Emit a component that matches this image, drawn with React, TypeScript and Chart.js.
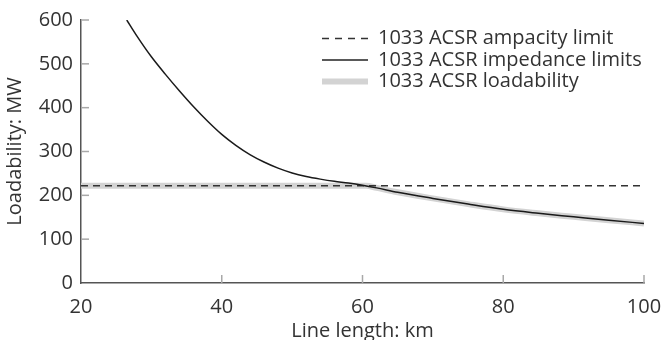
import React, { useEffect, useRef } from "react";
import { Chart, registerables } from "chart.js";

Chart.register(...registerables);

const FONT = "'Open Sans', 'Noto Sans', sans-serif";
const TEXT = "#333333";
const FS = 20;

// Data
const impedanceKm = [26.5, 28, 30, 32, 34, 36, 38, 40, 42, 44, 46, 48, 50, 52, 54, 56, 58, 60, 62, 65, 70, 75, 80, 85, 90, 95, 100];
const impedanceMW = [600, 562, 516, 476, 438, 402, 369, 339, 314, 293, 276, 262, 251, 243, 237, 232, 228, 223, 217, 207, 193, 180, 168, 159, 151, 143, 136];
const ampacityKm = [20, 100];
const ampacityMW = [222, 222];
const loadabilityKm = [20, 60.5, 62, 65, 70, 75, 80, 85, 90, 95, 100];
const loadabilityMW = [222, 222, 217, 207, 193, 180, 168, 159, 151, 143, 136];
const xTicks = [20, 40, 60, 80, 100];
const yTicks = [0, 100, 200, 300, 400, 500, 600];
const legendLabels = [
  "1033 ACSR ampacity limit",
  "1033 ACSR impedance limits",
  "1033 ACSR loadability",
];
const xTitle = "Line length: km";
const yTitle = "Loadability: MW";

const toPoints = (xs: number[], ys: number[]) => xs.map((x, i) => ({ x, y: ys[i] }));

const insideTicks = {
  id: "insideTicks",
  afterDatasetsDraw(chart: any) {
    const { ctx, chartArea, scales } = chart;
    ctx.save();
    ctx.strokeStyle = "#a8a8a8";
    ctx.lineWidth = 1.5;
    yTicks.forEach((v) => {
      if (v === 0) return;
      const y = scales.y.getPixelForValue(v);
      ctx.beginPath();
      ctx.moveTo(chartArea.left, y);
      ctx.lineTo(chartArea.left + 8, y);
      ctx.stroke();
    });
    xTicks.forEach((v) => {
      if (v === 20) return;
      const x = scales.x.getPixelForValue(v);
      ctx.beginPath();
      ctx.moveTo(x, chartArea.bottom);
      ctx.lineTo(x, chartArea.bottom - 8);
      ctx.stroke();
    });
    ctx.restore();
  },
};

const customLegend = {
  id: "customLegend",
  afterDraw(chart: any) {
    const { ctx } = chart;
    const x0 = 322;
    const x1 = 368;
    const tx = 378;
    const rows = [38.5, 60, 81.5];
    ctx.save();
    ctx.font = `${FS}px ${FONT}`;
    ctx.textBaseline = "middle";
    ctx.fillStyle = TEXT;
    rows.forEach((y, i) => {
      ctx.beginPath();
      if (i === 0) {
        ctx.strokeStyle = "#333333";
        ctx.lineWidth = 1.5;
        ctx.setLineDash([7, 6]);
      } else if (i === 1) {
        ctx.strokeStyle = "#222222";
        ctx.lineWidth = 1.5;
        ctx.setLineDash([]);
      } else {
        ctx.strokeStyle = "#d3d3d3";
        ctx.lineWidth = 6;
        ctx.setLineDash([]);
      }
      ctx.moveTo(x0, y);
      ctx.lineTo(x1, y);
      ctx.stroke();
      ctx.fillText(legendLabels[i], tx, y);
    });
    ctx.restore();
  },
};

export default function App() {
  const ref = useRef<HTMLCanvasElement | null>(null);
  useEffect(() => {
    if (!ref.current) return;
    const chart = new Chart(ref.current, {
      type: "line",
      data: {
        datasets: [
          {
            label: legendLabels[2],
            data: toPoints(loadabilityKm, loadabilityMW),
            borderColor: "#d3d3d3",
            borderWidth: 6,
            pointRadius: 0,
            cubicInterpolationMode: "monotone",
            order: 3,
          },
          {
            label: legendLabels[0],
            data: toPoints(ampacityKm, ampacityMW),
            borderColor: "#333333",
            borderWidth: 1.5,
            borderDash: [7, 5],
            pointRadius: 0,
            order: 2,
          },
          {
            label: legendLabels[1],
            data: toPoints(impedanceKm, impedanceMW),
            borderColor: "#1a1a1a",
            borderWidth: 1.5,
            pointRadius: 0,
            cubicInterpolationMode: "monotone",
            order: 1,
          },
        ],
      },
      options: {
        animation: false,
        responsive: false,
        maintainAspectRatio: false,
        layout: { padding: { left: 0, right: 19, top: 20, bottom: 0 } },
        plugins: { legend: { display: false }, tooltip: { enabled: false } },
        scales: {
          x: {
            type: "linear",
            min: 20,
            max: 100,
            afterFit: (s: any) => {
              s.height = 57;
              s.paddingRight = 0;
              s.paddingLeft = 0;
            },
            afterBuildTicks: (s: any) => {
              s.ticks = xTicks.map((v) => ({ value: v }));
            },
            grid: { display: false, drawTicks: false },
            border: { display: true, color: "#555555", width: 1.5 },
            ticks: { color: TEXT, font: { family: FONT, size: FS }, padding: 12, maxRotation: 0 },
            title: {
              display: true,
              text: xTitle,
              color: TEXT,
              font: { family: FONT, size: FS },
              padding: { top: 0, bottom: -3 },
            },
          },
          y: {
            type: "linear",
            min: 0,
            max: 600,
            afterFit: (s: any) => {
              s.width = 81;
              s.paddingTop = 0;
              s.paddingBottom = 0;
            },
            afterBuildTicks: (s: any) => {
              s.ticks = yTicks.map((v) => ({ value: v }));
            },
            grid: { display: false, drawTicks: false },
            border: { display: true, color: "#555555", width: 1.5 },
            ticks: { color: TEXT, font: { family: FONT, size: FS }, padding: 8 },
            title: {
              display: true,
              text: yTitle,
              color: TEXT,
              font: { family: FONT, size: FS },
              padding: { top: 3, bottom: 0 },
            },
          },
        },
      },
      plugins: [insideTicks, customLegend],
    } as any);
    return () => chart.destroy();
  }, []);
  return (
    <div style={{ position: "fixed", left: 0, top: 0, width: 663, height: 340, background: "#fff" }}>
      <canvas ref={ref} width={663} height={340} style={{ width: 663, height: 340 }} />
    </div>
  );
}
